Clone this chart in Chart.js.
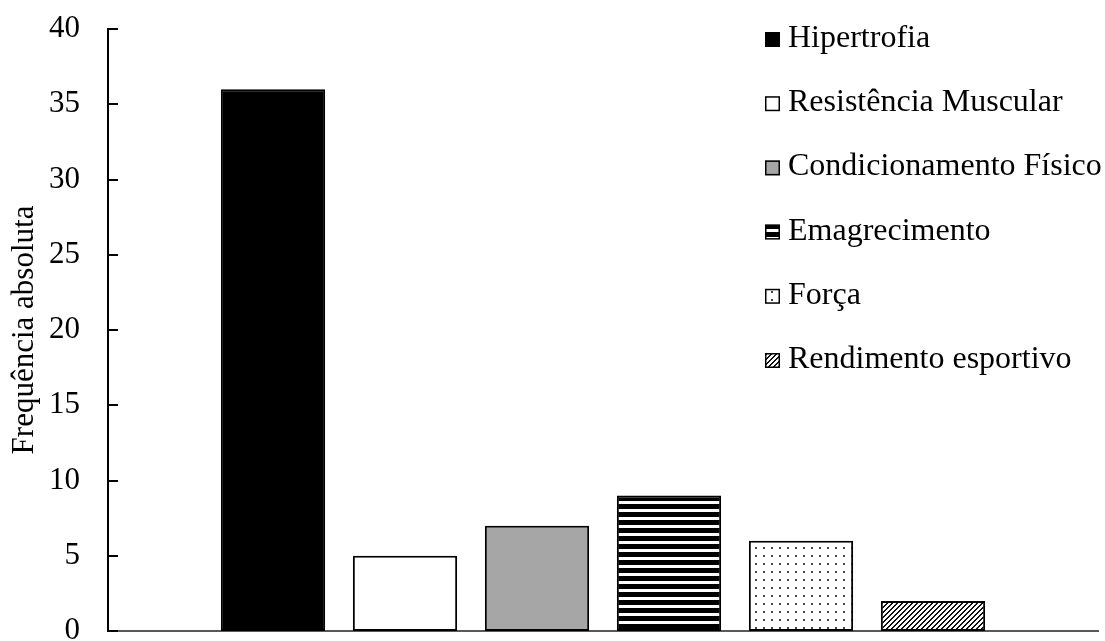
<!DOCTYPE html>
<html>
<head>
<meta charset="utf-8">
<script src="https://cdn.jsdelivr.net/npm/chart.js@4.4.1/dist/chart.umd.min.js"></script>
<style>
  html, body { margin: 0; padding: 0; background: #fff; }
  #wrap { width: 1105px; height: 641px; position: relative; }
</style>
</head>
<body>
<div id="wrap"><canvas id="chart"></canvas></div>
<script>
// Objetivos do treino: frequência absoluta por categoria
const categories = ['Hipertrofia', 'Resistência Muscular', 'Condicionamento Físico', 'Emagrecimento', 'Força', 'Rendimento esportivo'];
const counts = [36, 5, 7, 9, 6, 2];
const yAxisTitle = 'Frequência absoluta';
const yMin = 0;
const yMax = 40;
const yStep = 5;

const SERIF = '"Liberation Serif", "Times New Roman", serif';

const canvas = document.getElementById('chart');
const ctx = canvas.getContext('2d');

// Small tiles used as fill patterns
function makeTile(w, h, paint) {
  const t = document.createElement('canvas');
  t.width = w; t.height = h;
  const g = t.getContext('2d');
  g.fillStyle = '#fff';
  g.fillRect(0, 0, w, h);
  paint(g);
  return ctx.createPattern(t, 'repeat');
}

const stripes = makeTile(8, 8, g => {
  g.fillStyle = '#000';
  g.fillRect(0, 0, 8, 5);
});

const dots = makeTile(8, 8, g => {
  g.fillStyle = '#444';
  g.fillRect(3, 3, 2, 2);
});

const hatch = makeTile(5, 5, g => {
  g.fillStyle = '#111';
  for (let i = 0; i < 5; i++) {
    g.fillRect(i, 4 - i, 1, 1);
    g.fillRect((i + 1) % 5, 4 - i, 1, 1);
  }
});

const fills = ['#000000', '#ffffff', '#a6a6a6', stripes, dots, hatch];

// Ticks drawn inward from the value axis
const innerTicks = {
  id: 'innerTicks',
  afterDraw(chart) {
    const y = chart.scales.y;
    const left = chart.chartArea.left;
    const c = chart.ctx;
    c.save();
    c.strokeStyle = '#000';
    c.lineWidth = 2;
    c.beginPath();
    y.ticks.forEach((t, i) => {
      const py = Math.round(y.getPixelForTick(i));
      c.moveTo(left, py);
      c.lineTo(left + 10, py);
    });
    c.stroke();
    c.restore();
  }
};

// Legend placed inside the plot, top right
const boxLegend = {
  id: 'boxLegend',
  afterDraw(chart, args, opts) {
    const c = chart.ctx;
    c.save();
    c.font = opts.fontSize + 'px ' + SERIF;
    c.textBaseline = 'alphabetic';
    categories.forEach((name, i) => {
      const base = opts.top + i * opts.rowGap;
      const sy = base - opts.box;
      c.fillStyle = fills[i];
      c.fillRect(opts.x, sy, opts.box, opts.box);
      c.strokeStyle = '#000';
      c.lineWidth = 1.5;
      c.strokeRect(opts.x + 0.75, sy + 0.75, opts.box - 1.5, opts.box - 1.5);
      c.fillStyle = '#000';
      c.fillText(name, opts.x + opts.box + 8, base);
    });
    c.restore();
  }
};

new Chart(canvas, {
  type: 'bar',
  data: {
    datasets: [{
      data: categories.map((c, i) => ({ x: i + 1, y: counts[i] })),
      backgroundColor: fills,
      borderColor: '#000',
      borderWidth: 2,
      borderSkipped: false,
      categoryPercentage: 1,
      barPercentage: 0.79
    }]
  },
  options: {
    responsive: true,
    maintainAspectRatio: false,
    animation: false,
    devicePixelRatio: 1,
    layout: { padding: { left: 6, top: 29, right: 7, bottom: 10 } },
    plugins: {
      legend: { display: false },
      tooltip: { enabled: false },
      boxLegend: { x: 765, top: 47, rowGap: 64.2, box: 15, fontSize: 32 }
    },
    scales: {
      x: {
        type: 'linear',
        offset: false,
        min: -0.25,
        max: 7.25,
        ticks: { display: false },
        grid: { display: false, drawTicks: false, offset: false },
        border: { color: '#595959', width: 2 },
        afterFit(s) { s.height = 0; s.paddingLeft = 0; s.paddingRight = 0; }
      },
      y: {
        min: yMin,
        max: yMax,
        ticks: {
          stepSize: yStep,
          color: '#000',
          padding: 28,
          font: { family: SERIF, size: 31 }
        },
        grid: { display: false, drawTicks: false },
        border: { color: '#000', width: 2 },
        title: {
          display: true,
          text: yAxisTitle,
          color: '#000',
          padding: 0,
          font: { family: SERIF, size: 31 }
        },
        afterFit(s) { s.width = 102; s.paddingTop = 0; s.paddingBottom = 0; }
      }
    }
  },
  plugins: [innerTicks, boxLegend]
});
</script>
</body>
</html>
